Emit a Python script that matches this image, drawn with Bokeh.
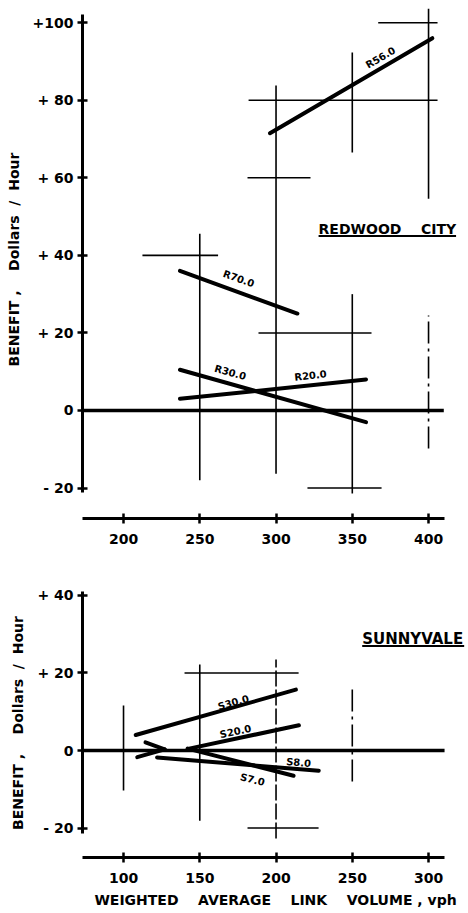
import math
from bokeh.plotting import figure
from bokeh.models import Range1d, ColumnDataSource, FixedTicker
from bokeh.layouts import column
from bokeh.core.properties import value
from bokeh.embed import file_html
from bokeh.resources import INLINE

FONT = "DejaVu Sans"
NB = "\u00a0"

# ---------------- Redwood City (upper panel) ----------------
rc_x_ticks = [200, 250, 300, 350, 400]
rc_x_tick_labels = ["200", "250", "300", "350", "400"]
rc_y_ticks = [-20, 0, 20, 40, 60, 80, 100]
rc_y_tick_labels = ["- 20", "0", "+ 20", "+ 40", "+ 60", "+ 80", "+100"]

rc_line_names = ["R56.0", "R70.0", "R30.0", "R20.0"]
rc_line_x0 = [296, 237, 237, 237]
rc_line_y0 = [71.5, 36, 10.5, 3]
rc_line_x1 = [402.5, 314, 359, 359]
rc_line_y1 = [96, 25, -3, 8]
rc_label_x = [368.5, 275.5, 270, 322.6]
rc_label_y = [91, 34, 9.8, 9]

rc_vert_x = [250, 300, 350, 350, 400, 400]
rc_vert_lo = [-18, -16.3, 66.5, -21.4, 54.6, -9.8]
rc_vert_hi = [45.6, 83.8, 92.3, 30, 103.6, 24.5]
rc_vert_kind = ["solid", "solid", "solid", "solid", "solid", "dashdot"]

rc_horz_y = [40, 60, 80, 100, 20, -20]
rc_horz_lo = [212.4, 281.3, 282, 367, 288.5, 320.6]
rc_horz_hi = [262, 322.6, 405.9, 405.9, 362.6, 369.2]

rc_zero_x = [173.1, 410]
rc_city = "REDWOOD" + NB * 4 + "CITY"
rc_city_x, rc_city_y = 327.9, 46.9

# ---------------- Sunnyvale (lower panel) ----------------
sv_x_ticks = [100, 150, 200, 250, 300]
sv_x_tick_labels = ["100", "150", "200", "250", "300"]
sv_y_ticks = [-20, 0, 20, 40]
sv_y_tick_labels = ["- 20", "0", "+ 20", "+ 40"]

sv_line_names = ["S30.0", "S20.0", "S8.0", "S7.0", "", ""]
sv_line_x0 = [108, 143, 122, 142, 114.4, 109]
sv_line_y0 = [4, 0.5, -1.8, 0.5, 2.1, -1.7]
sv_line_x1 = [213, 215, 228, 211.5, 127, 127]
sv_line_y1 = [15.7, 6.5, -5.2, -6.5, 0.3, 0.3]
sv_label_x = [172, 173.4, 214.8, 184.6]
sv_label_y = [12.4, 4.9, -3.1, -7.5]

sv_vert_x = [100, 150, 200, 250]
sv_vert_lo = [-10.3, -18.1, -22.7, -8.0]
sv_vert_hi = [11.6, 22.2, 23.5, 16.8]
sv_vert_kind = ["solid", "solid", "dashed", "dashdot"]

sv_horz_y = [20, -20]
sv_horz_lo = [140, 181.3]
sv_horz_hi = [214.8, 227.9]

sv_zero_x = [73.1, 310.5]
sv_city = "SUNNYVALE"
sv_city_x, sv_city_y = 256.5, 28.9

Y_LABEL = "BENEFIT" + NB + "," + NB * 4 + "Dollars" + NB * 2 + "/" + NB * 2 + "Hour"
X_LABEL = ("WEIGHTED" + NB * 4 + "AVERAGE" + NB * 4 + "LINK" + NB * 4 +
           "VOLUME" + NB + "," + NB + "vph")

# ---------------- layout geometry (page has no margin) ----------------
FIG_W = 468
BORDER_L = 82
FRAME_W = FIG_W - BORDER_L

TOP_X = (173.1, 426.2)
TOP_Y = (-27.85, 105.72)
TOP_FRAME_H = 518
TOP_BT, TOP_BB = 0, 36

BOT_X = (73.1, 326.2)
BOT_Y = (-27.6, 41.8)
BOT_FRAME_H = 269
BOT_BT, BOT_BB = 34, 55

# DejaVu Sans Bold advance widths (em) for underline length
ADV = {"R": .770, "E": .683, "D": .830, "W": 1.103, "O": .850, "C": .734, "I": .372,
       "T": .682, "Y": .724, "S": .720, "U": .812, "N": .837, "V": .774, "A": .774,
       "L": .637, NB: .348, " ": .348}


def text_w(s, size):
    return sum(ADV.get(c, .7) for c in s) * size


def make_fig(xr, yr, frame_h, bt, bb):
    p = figure(width=FIG_W, height=frame_h + bt + bb,
               x_range=Range1d(*xr), y_range=Range1d(*yr),
               output_backend="svg", toolbar_location=None,
               min_border_left=BORDER_L, min_border_right=0,
               min_border_top=bt, min_border_bottom=bb)
    p.outline_line_color = None
    p.grid.visible = False
    p.background_fill_color = "white"
    p.border_fill_color = "white"
    for ax in (p.xaxis[0], p.yaxis[0]):
        ax.axis_line_width = 3
        ax.axis_line_color = "black"
        ax.major_tick_line_width = 2.5
        ax.major_tick_line_color = "black"
        ax.major_tick_in = 5
        ax.major_tick_out = 5
        ax.minor_tick_line_color = None
        ax.major_label_text_font = FONT
        ax.major_label_text_font_style = "bold"
        ax.major_label_text_font_size = "14px"
        ax.major_label_text_color = "black"
        ax.axis_label_text_font = FONT
        ax.axis_label_text_font_style = "bold"
        ax.axis_label_text_font_size = "14px"
        ax.axis_label_text_color = "black"
    p.yaxis.major_label_standoff = 4
    p.yaxis.axis_label_standoff = 8
    p.yaxis.axis_label = Y_LABEL
    p.xaxis.major_label_standoff = 10
    p.xaxis.axis_label_standoff = 6
    return p


DASH = {"solid": "solid", "dashed": "16 3", "dashdot": "22 5 3 5"}


def draw(p, xr, yr, frame_h, vx, vlo, vhi, vkind, hy, hlo, hhi,
         lx0, ly0, lx1, ly1, names, labx, laby, zx, city, cx, cy, city_size):
    sx = FRAME_W / (xr[1] - xr[0])
    sy = frame_h / (yr[1] - yr[0])
    # crosses: vertical ranges
    for kind in DASH:
        idx = [i for i, k in enumerate(vkind) if k == kind]
        if not idx:
            continue
        src = ColumnDataSource(dict(x=[vx[i] for i in idx], lo=[vlo[i] for i in idx],
                                    hi=[vhi[i] for i in idx]))
        p.segment(x0="x", y0="lo", x1="x", y1="hi", source=src,
                  line_color="black", line_width=1.6, line_dash=DASH[kind])
    # crosses: horizontal ranges
    hsrc = ColumnDataSource(dict(y=hy, lo=hlo, hi=hhi))
    p.segment(x0="lo", y0="y", x1="hi", y1="y", source=hsrc,
              line_color="black", line_width=1.6)
    # zero baseline
    p.line(zx, [0, 0], line_color="black", line_width=3.5)
    # fitted lines
    lsrc = ColumnDataSource(dict(x0=lx0, y0=ly0, x1=lx1, y1=ly1))
    p.segment(x0="x0", y0="y0", x1="x1", y1="y1", source=lsrc,
              line_color="black", line_width=4, line_cap="round")
    # line labels, rotated along their lines
    n = len(labx)
    ang = [math.atan2((ly1[i] - ly0[i]) * sy, (lx1[i] - lx0[i]) * sx) for i in range(n)]
    tsrc = ColumnDataSource(dict(x=labx, y=laby, t=names[:n], a=ang))
    p.text(x="x", y="y", text="t", angle="a", source=tsrc,
           text_font=value(FONT), text_font_style="bold", text_font_size="10px",
           text_align="center", text_baseline="middle", text_color="black")
    # city name, underlined
    csrc = ColumnDataSource(dict(x=[cx], y=[cy], t=[city]))
    p.text(x="x", y="y", text="t", source=csrc,
           text_font=value(FONT), text_font_style="bold",
           text_font_size="%dpx" % city_size,
           text_align="left", text_baseline="middle", text_color="black")
    uy = cy - 7.5 / sy
    p.line([cx, cx + text_w(city, city_size) / sx], [uy, uy],
           line_color="black", line_width=2)


# ---------------- upper panel ----------------
p1 = make_fig(TOP_X, TOP_Y, TOP_FRAME_H, TOP_BT, TOP_BB)
p1.xaxis.ticker = FixedTicker(ticks=rc_x_ticks)
p1.xaxis.major_label_overrides = dict(zip(rc_x_ticks, rc_x_tick_labels))
p1.yaxis.ticker = FixedTicker(ticks=rc_y_ticks)
p1.yaxis.major_label_overrides = dict(zip(rc_y_ticks, rc_y_tick_labels))
p1.xaxis.bounds = (173.1, 410.5)
p1.yaxis.bounds = (-21.2, 102.0)
draw(p1, TOP_X, TOP_Y, TOP_FRAME_H, rc_vert_x, rc_vert_lo, rc_vert_hi, rc_vert_kind,
     rc_horz_y, rc_horz_lo, rc_horz_hi, rc_line_x0, rc_line_y0, rc_line_x1, rc_line_y1,
     rc_line_names, rc_label_x, rc_label_y, rc_zero_x, rc_city, rc_city_x, rc_city_y, 14)

# ---------------- lower panel ----------------
p2 = make_fig(BOT_X, BOT_Y, BOT_FRAME_H, BOT_BT, BOT_BB)
p2.xaxis.ticker = FixedTicker(ticks=sv_x_ticks)
p2.xaxis.major_label_overrides = dict(zip(sv_x_ticks, sv_x_tick_labels))
p2.yaxis.ticker = FixedTicker(ticks=sv_y_ticks)
p2.yaxis.major_label_overrides = dict(zip(sv_y_ticks, sv_y_tick_labels))
p2.xaxis.bounds = (73.1, 310.5)
p2.yaxis.bounds = (-21.4, 41.0)
p2.xaxis.axis_label = X_LABEL
draw(p2, BOT_X, BOT_Y, BOT_FRAME_H, sv_vert_x, sv_vert_lo, sv_vert_hi, sv_vert_kind,
     sv_horz_y, sv_horz_lo, sv_horz_hi, sv_line_x0, sv_line_y0, sv_line_x1, sv_line_y1,
     sv_line_names, sv_label_x, sv_label_y, sv_zero_x, sv_city, sv_city_x, sv_city_y, 15)

layout = column(p1, p2)
open("out.html", "w").write(file_html(layout, INLINE))
